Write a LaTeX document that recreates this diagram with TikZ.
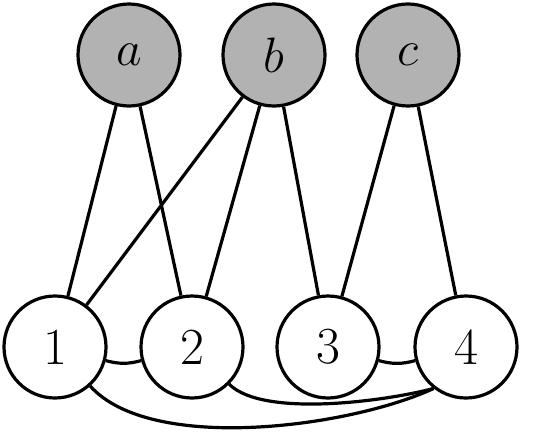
\documentclass[tikz,border=0pt]{standalone}
\begin{document}
\begin{tikzpicture}[x=0.5pt,y=0.5pt,line width=1.6pt,
    vert/.style={circle,draw,minimum size=51pt,inner sep=0pt,font=\fontsize{26}{30}\selectfont},
    top/.style={vert,fill=black!30}]
    \useasboundingbox (0,0) rectangle (550,435);
    \node[top] (a) at (129,380) {$a$};
    \node[top] (b) at (274,380) {$b$};
    \node[top] (c) at (408,380) {$c$};
    \node[vert] (n1) at (55,88) {1};
    \node[vert] (n2) at (192,88) {2};
    \node[vert] (n3) at (328,88) {3};
    \node[vert] (n4) at (466,88) {4};
    \draw (a) -- (n1);
    \draw (a) -- (n2);
    \draw (b) -- (n1);
    \draw (b) -- (n2);
    \draw (b) -- (n3);
    \draw (c) -- (n3);
    \draw (c) -- (n4);
    \draw (n1) to[bend right=15] (n2);
    \draw (n3) to[bend right=15] (n4);
    \draw (n2) to[out=-45,in=195,looseness=0.6] (n4.232);
    \draw (n1) to[out=-48,in=205,looseness=0.68] (n4.232);
\end{tikzpicture}
\end{document}
